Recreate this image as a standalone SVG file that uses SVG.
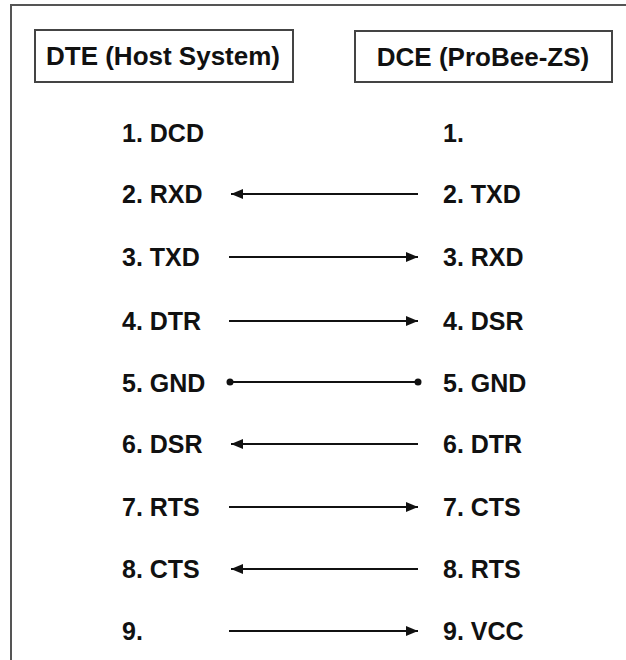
<svg xmlns="http://www.w3.org/2000/svg" width="626" height="660" viewBox="0 0 626 660">
<defs>
<style>
.lbl{font-family:"Liberation Sans",Arial,sans-serif;font-weight:bold;font-size:25px;fill:#111}
.hdr{font-family:"Liberation Sans",Arial,sans-serif;font-weight:bold;font-size:26px;fill:#111}
.box{fill:#fff;stroke:#444;stroke-width:2}
.wire{stroke:#111;stroke-width:1.8;fill:none}
</style>
<marker id="ah" viewBox="0 0 12 10" refX="12" refY="5" markerWidth="12" markerHeight="10" markerUnits="userSpaceOnUse" orient="auto">
<path d="M0,0 L12,5 L0,10 z" fill="#111"/>
</marker>
<marker id="dot" viewBox="0 0 8 8" refX="4" refY="4" markerWidth="8" markerHeight="8" markerUnits="userSpaceOnUse">
<circle cx="4" cy="4" r="3.5" fill="#111"/>
</marker>
</defs>
<rect width="626" height="660" fill="#fff"/>
<path d="M11,660 V5 H626" fill="none" stroke="#555" stroke-width="2"/>
<g id="dte-header"><rect class="box" x="35" y="30" width="258" height="52"/><text class="hdr" x="163" y="65" text-anchor="middle">DTE (Host System)</text></g>
<g id="dce-header"><rect class="box" x="355" y="31" width="257" height="51"/><text class="hdr" x="483" y="66" text-anchor="middle">DCE (ProBee-ZS)</text></g>
<g id="dte-pins">
<text class="lbl" x="122" y="142">1. DCD</text>
<text class="lbl" x="122" y="203">2. RXD</text>
<text class="lbl" x="122" y="266">3. TXD</text>
<text class="lbl" x="122" y="330">4. DTR</text>
<text class="lbl" x="122" y="392">5. GND</text>
<text class="lbl" x="122" y="453">6. DSR</text>
<text class="lbl" x="122" y="516">7. RTS</text>
<text class="lbl" x="122" y="578">8. CTS</text>
<text class="lbl" x="122" y="640">9.</text>
</g>
<g id="dce-pins">
<text class="lbl" x="443" y="142">1.</text>
<text class="lbl" x="443" y="203">2. TXD</text>
<text class="lbl" x="443" y="266">3. RXD</text>
<text class="lbl" x="443" y="330">4. DSR</text>
<text class="lbl" x="443" y="392">5. GND</text>
<text class="lbl" x="443" y="453">6. DTR</text>
<text class="lbl" x="443" y="516">7. CTS</text>
<text class="lbl" x="443" y="578">8. RTS</text>
<text class="lbl" x="443" y="640">9. VCC</text>
</g>
<g id="connectors">
<line class="wire" x1="418" y1="194" x2="231" y2="194" marker-end="url(#ah)"/>
<line class="wire" x1="229" y1="257" x2="418" y2="257" marker-end="url(#ah)"/>
<line class="wire" x1="229" y1="321" x2="418" y2="321" marker-end="url(#ah)"/>
<line class="wire" x1="230" y1="382" x2="418" y2="382" marker-start="url(#dot)" marker-end="url(#dot)"/>
<line class="wire" x1="418" y1="444" x2="231" y2="444" marker-end="url(#ah)"/>
<line class="wire" x1="229" y1="507" x2="418" y2="507" marker-end="url(#ah)"/>
<line class="wire" x1="418" y1="569" x2="231" y2="569" marker-end="url(#ah)"/>
<line class="wire" x1="229" y1="631" x2="418" y2="631" marker-end="url(#ah)"/>
</g>
</svg>
